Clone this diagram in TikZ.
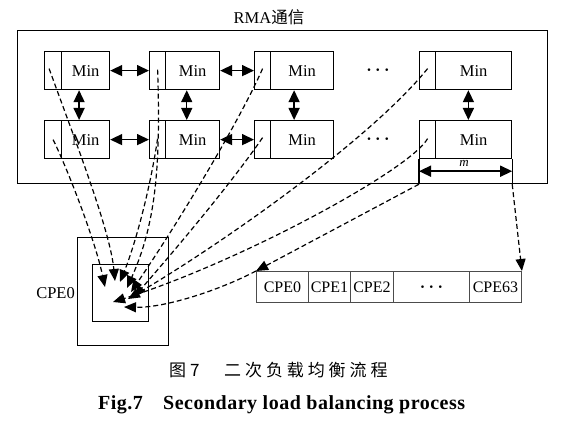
\documentclass[tikz,border=0pt]{standalone}
\usepackage{fontspec}
\setmainfont{Liberation Serif}
\newfontfamily\cjk{Noto Sans CJK SC}
\newfontfamily\cjkcap[LetterSpace=23]{Noto Sans CJK SC}
\newfontfamily\capfont[LetterSpace=2.5]{Liberation Serif}
\usetikzlibrary{arrows.meta,calc}
\newcommand\fsz[1]{\fontsize{#1pt}{#1pt}\selectfont}
\tikzset{
  cell/.style={draw, line width=1.2pt, inner sep=0pt, minimum height=38pt, anchor=north west, font=\fsz{16.5}},
  frame/.style={draw, line width=1.2pt, inner sep=0pt, anchor=north west},
  acell/.style={draw=black!70, line width=0.9pt, inner sep=0pt, minimum height=31pt, anchor=north west, font=\fsz{16}},
  dbl/.style={line width=1.5pt, {Triangle[length=12pt,width=11pt]}-{Triangle[length=12pt,width=11pt]}},
  flow/.style={dash pattern=on 5pt off 3pt, line width=1.2pt, -{Triangle[length=12pt,width=10pt]}},
  lbl/.style={inner sep=0pt, font=\fsz{16}},
  dots/.style={inner sep=0pt, font=\fsz{19}\boldmath},
}
\begin{document}
\begin{tikzpicture}[x=1pt,y=-1pt]
\useasboundingbox (0,0) rectangle (569,435);
% outer RMA frame
\node[frame, minimum width=530pt, minimum height=153pt] (rma) at (17,30) {};
\node[anchor=base, inner sep=0pt, font=\fsz{16.5}] (title) at (269,24) {RMA{\cjk 通信}};
% row 1
\node[cell, minimum width=17pt] (s11) at (44,51) {};
\node[cell, minimum width=48pt] (m11) at (61,51) {Min};
\node[cell, minimum width=16pt] (s12) at (149,51) {};
\node[cell, minimum width=54pt] (m12) at (165,51) {Min};
\node[cell, minimum width=16pt] (s13) at (254,51) {};
\node[cell, minimum width=63pt] (m13) at (270,51) {Min};
\node[cell, minimum width=16pt] (s14) at (419,51) {};
\node[cell, minimum width=76pt] (m14) at (435,51) {Min};
% row 2
\node[cell, minimum width=17pt] (s21) at (44,120) {};
\node[cell, minimum width=48pt] (m21) at (61,120) {Min};
\node[cell, minimum width=16pt] (s22) at (149,120) {};
\node[cell, minimum width=54pt] (m22) at (165,120) {Min};
\node[cell, minimum width=16pt] (s23) at (254,120) {};
\node[cell, minimum width=63pt] (m23) at (270,120) {Min};
\node[cell, minimum width=16pt] (s24) at (419,120) {};
\node[cell, minimum width=76pt] (m24) at (435,120) {Min};
% dots
\node[dots] (d1) at (378,70) {$\cdots$};
\node[dots] (d2) at (378,139) {$\cdots$};
% horizontal double arrows
\draw[dbl] (m11.east) -- (s12.west);
\draw[dbl] (m12.east) -- (s13.west);
\draw[dbl] (m21.east) -- (s22.west);
\draw[dbl] (m22.east) -- (s23.west);
% vertical double arrows
\draw[dbl] ($(s11.south west)!0.53!(m11.south east)$) -- ($(s21.north west)!0.53!(m21.north east)$);
\draw[dbl] ($(s12.south west)!0.53!(m12.south east)$) -- ($(s22.north west)!0.53!(m22.north east)$);
\draw[dbl] ($(s13.south west)!0.50!(m13.south east)$) -- ($(s23.north west)!0.50!(m23.north east)$);
\draw[dbl] ($(s14.south west)!0.53!(m14.south east)$) -- ($(s24.north west)!0.53!(m24.north east)$);
% m dimension
\coordinate (ml) at (s24.south west |- rma.south);
\coordinate (mr) at (m24.south east |- rma.south);
\draw[line width=1.2pt] (s24.south west) -- (ml);
\draw[line width=1.2pt] (m24.south east) -- (mr);
\draw[dbl] ([yshift=-12pt]s24.south west) -- ([yshift=-12pt]m24.south east);
\node[inner sep=0pt, font=\fsz{13}\itshape] (mlab) at (464,163.5) {m};
% CPE0 boxes
\node[frame, minimum width=91pt, minimum height=108pt] (cpeo) at (77,237) {};
\node[frame, minimum width=56pt, minimum height=57pt] (cpei) at (92,264) {};
\node[lbl, anchor=east, font=\fsz{16.5}] (cpelab) at (75,293) {CPE0};
% CPE array
\node[acell, minimum width=52pt] (a0) at (256,271) {CPE0};
\node[acell, minimum width=42pt] (a1) at (308,271) {CPE1};
\node[acell, minimum width=43pt] (a2) at (350,271) {CPE2};
\node[acell, minimum width=76pt, font=\fsz{18}\boldmath] (a3) at (393,271) {$\cdots$};
\node[acell, minimum width=52pt] (a4) at (469,271) {CPE63};
% end points inside CPE0
\coordinate (e1) at (115,281);
\coordinate (e2) at (105,287);
\coordinate (e3) at (127,288);
\coordinate (e4) at (120,282);
\coordinate (e5) at (131,292);
\coordinate (e6) at (134,297);
\coordinate (e7) at (128,299);
\coordinate (e8) at (113,302);
\coordinate (e9) at (124,307);
% dashed flows
\draw[flow] ([xshift=-4pt,yshift=2pt]s11.center) .. controls (75,140) and (110,230) .. (e1);
\draw[flow] (s21.center) .. controls (68,170) and (95,240) .. (e2);
\draw[flow] ([yshift=1pt]s12.center) .. controls (161,170) and (155,225) .. (e3);
\draw[flow] ([yshift=1pt]s22.center) .. controls (150,190) and (135,245) .. (e4);
\draw[flow] ([yshift=2pt]s13.center) .. controls (240,120) and (180,220) .. (e5);
\draw[flow] ([yshift=2pt]s23.center) .. controls (230,185) and (175,250) .. (e6);
\draw[flow] ([yshift=2pt]s14.center) .. controls (370,140) and (220,245) .. (e7);
\draw[flow] ([yshift=1pt]s24.center) .. controls (410,170) and (240,262) .. (e8);
\draw[flow] (a0.north west) .. controls (220,290) and (165,308) .. (e9);
\draw[flow] (ml) -- (a0.north west);
\draw[flow] (mr) -- (a4.north east);
% caption
\node[anchor=west, inner sep=0pt, font=\fsz{17}\cjk] (cap1) at (169,370) {图\hspace{4pt}7};
\node[anchor=west, inner sep=0pt, font=\fsz{17}\cjkcap] (cap2) at (224,370) {二次负载均衡流程};
\node[anchor=base west, inner sep=0pt, font=\fsz{20}\capfont\bfseries] (cap3) at (98,409) {Fig.7};
\node[anchor=base west, inner sep=0pt, font=\fsz{20}\capfont\bfseries] (cap4) at (163,409) {Secondary load balancing process};
\end{tikzpicture}
\end{document}
